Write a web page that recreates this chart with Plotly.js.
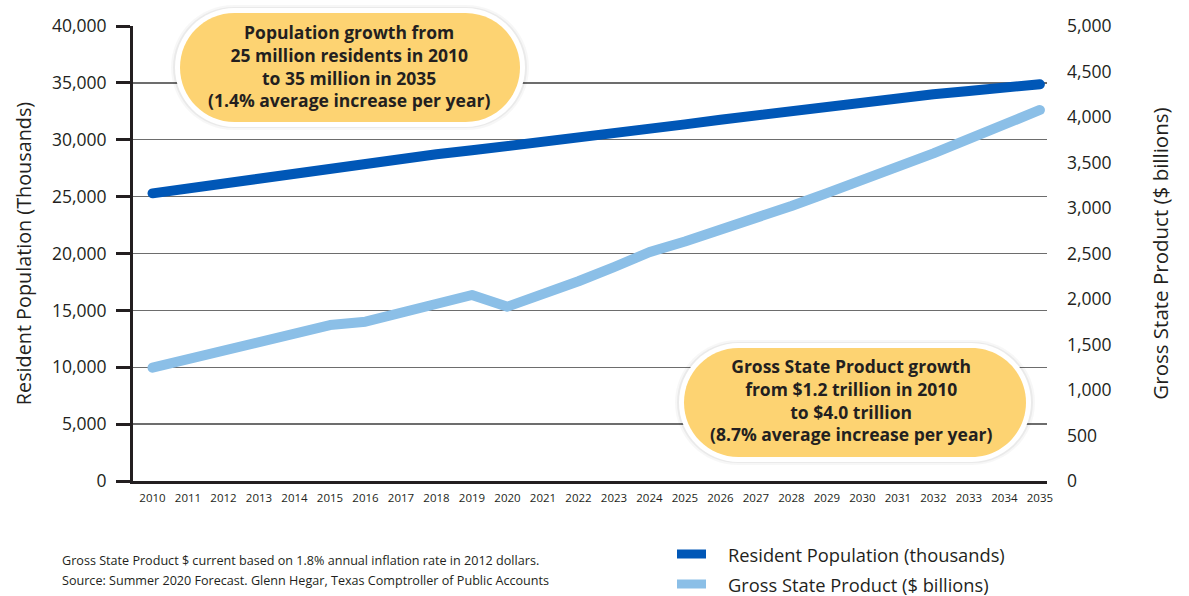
<!DOCTYPE html>
<html>
<head>
<meta charset="utf-8">
<script src="https://cdn.plot.ly/plotly-3.0.1.min.js"></script>
<style>
  html, body { margin: 0; padding: 0; background: #ffffff; }
  #chart { width: 1189px; height: 596px; }
</style>
</head>
<body>
<div id="chart"></div>
<script>
// ---- Data ----
const years = [2010, 2011, 2012, 2013, 2014, 2015, 2016, 2017, 2018, 2019, 2020, 2021, 2022,
               2023, 2024, 2025, 2026, 2027, 2028, 2029, 2030, 2031, 2032, 2033, 2034, 2035];
const population = [25290, 25730, 26170, 26610, 27080, 27550, 28020, 28370, 28720, 29070, 29420, 29770, 30130,
                    30520, 30940, 31350, 31760, 32170, 32580, 32990, 33400, 33700, 34000, 34290, 34580, 34880];
const gsp = [1245, 1337, 1431, 1525, 1620, 1714, 1751, 1843, 1945, 2044, 1916, 2050, 2195,
             2350, 2515, 2632, 2756, 2880, 3022, 3164, 3306, 3443, 3601, 3759, 3917, 4077];
const yearLabels = years.map(String);
const popTicks = [0, 5000, 10000, 15000, 20000, 25000, 30000, 35000, 40000];
const gspTicks = [0, 500, 1000, 1500, 2000, 2500, 3000, 3500, 4000, 4500, 5000];
const seriesNames = ['Resident Population (thousands)', 'Gross State Product ($ billions)'];
const yTitleLeft = 'Resident Population (Thousands)';
const yTitleRight = 'Gross State Product ($ billions)';
const note1 = 'Population growth from<br>25 million residents in 2010<br>to 35 million in 2035<br>(1.4% average increase per year)';
const note2 = 'Gross State Product growth<br>from $1.2 trillion in 2010<br>to $4.0 trillion<br>(8.7% average increase per year)';
const footnotes = ['Gross State Product $ current based on 1.8% annual inflation rate in 2012 dollars.',
                   'Source: Summer 2020 Forecast. Glenn Hegar, Texas Comptroller of Public Accounts'];

// ---- Layout geometry ----
const W = 1189, H = 596;
const M = { l: 133, r: 142, t: 26, b: 115 };
const PW = W - M.l - M.r, PH = H - M.t - M.b;
const px2x = px => (px - M.l) / PW;
const px2y = py => (H - M.b - py) / PH;

const DARK = '#0057b7', LIGHT = '#8bbfe7', INK = '#231f20', YELLOW = '#fdd372';
const FONT = '"Open Sans", "Noto Sans", sans-serif';

function pill(x0, y0, x1, y1) {
  const r = (y1 - y0) / 2, k = 0.5523 * r;
  const P = (x, y) => px2x(x).toFixed(5) + ',' + px2y(y).toFixed(5);
  return 'M' + P(x0 + r, y0) + ' L' + P(x1 - r, y0) +
    ' C' + P(x1 - r + k, y0) + ' ' + P(x1, y0 + r - k) + ' ' + P(x1, y0 + r) +
    ' C' + P(x1, y0 + r + k) + ' ' + P(x1 - r + k, y1) + ' ' + P(x1 - r, y1) +
    ' L' + P(x0 + r, y1) +
    ' C' + P(x0 + r - k, y1) + ' ' + P(x0, y0 + r + k) + ' ' + P(x0, y0 + r) +
    ' C' + P(x0, y0 + r - k) + ' ' + P(x0 + r - k, y0) + ' ' + P(x0 + r, y0) + ' Z';
}
function callout(x0, y0, x1, y1) {
  return [
    { type: 'path', xref: 'paper', yref: 'paper', layer: 'above', path: pill(x0 - 9, y0 - 8, x1 + 9, y1 + 8), fillcolor: 'rgba(0,0,0,0.03)', line: { width: 0 } },
    { type: 'path', xref: 'paper', yref: 'paper', layer: 'above', path: pill(x0 - 7, y0 - 6, x1 + 7, y1 + 6), fillcolor: 'rgba(0,0,0,0.05)', line: { width: 0 } },
    { type: 'path', xref: 'paper', yref: 'paper', layer: 'above', path: pill(x0 - 5, y0 - 5, x1 + 5, y1 + 5), fillcolor: '#ffffff', line: { width: 0 } },
    { type: 'path', xref: 'paper', yref: 'paper', layer: 'above', path: pill(x0, y0, x1, y1), fillcolor: YELLOW, line: { width: 0 } }
  ];
}
// legend drawn as swatches + labels below the plot
const legendColors = [DARK, LIGHT];
const legendRows = [554, 584];
const legendShapes = legendRows.map((cy, i) => ({
  type: 'rect', xref: 'paper', yref: 'paper', layer: 'above',
  x0: px2x(677), x1: px2x(706), y0: px2y(cy - 4.5), y1: px2y(cy + 4.5),
  fillcolor: legendColors[i], line: { width: 0 }
}));
const legendLabels = legendRows.map((cy, i) => ({
  xref: 'paper', yref: 'paper', x: px2x(726), y: px2y(cy), xanchor: 'left', yanchor: 'middle',
  text: seriesNames[i], showarrow: false, font: { family: FONT, size: 18.3, color: INK }
}));

const traces = [
  { x: years, y: population, name: seriesNames[0], type: 'scatter', mode: 'lines', yaxis: 'y',
    line: { color: DARK, width: 10 }, hoverinfo: 'skip' },
  { x: years, y: gsp, name: seriesNames[1], type: 'scatter', mode: 'lines', yaxis: 'y2',
    line: { color: LIGHT, width: 10 }, hoverinfo: 'skip' }
];

const layout = {
  width: W, height: H,
  margin: M,
  paper_bgcolor: '#ffffff', plot_bgcolor: '#ffffff',
  font: { family: FONT, color: INK },
  showlegend: false,
  xaxis: {
    range: [2009.45, 2035.2], tickvals: years, ticktext: yearLabels,
    showgrid: false, zeroline: false, showline: true, linecolor: INK, linewidth: 3,
    ticks: '', ticklabelstandoff: 4,
    tickfont: { family: FONT, size: 11.5, color: INK }, fixedrange: true
  },
  yaxis: {
    range: [0, 40000], tickvals: popTicks, tickformat: ',',
    showgrid: true, gridcolor: '#6d6d6d', gridwidth: 1.3,
    zeroline: false, showline: true, linecolor: INK, linewidth: 3,
    ticks: 'outside', ticklen: 14, tickwidth: 3, tickcolor: INK, ticklabelstandoff: 6,
    tickfont: { family: FONT, size: 17.5, color: INK },
    title: { text: yTitleLeft, font: { family: FONT, size: 19.8, color: INK }, standoff: 16 },
    fixedrange: true
  },
  yaxis2: {
    overlaying: 'y', side: 'right', range: [0, 5000], tickvals: gspTicks, tickformat: ',',
    showgrid: false, zeroline: false, showline: false, ticks: '', ticklabelstandoff: 19,
    tickfont: { family: FONT, size: 17.5, color: INK },
    title: { text: yTitleRight, font: { family: FONT, size: 20.5, color: INK }, standoff: 43 },
    fixedrange: true
  },
  shapes: [].concat(callout(180, 13, 520, 122), callout(684, 348, 1026, 457), legendShapes),
  annotations: [
    { xref: 'paper', yref: 'paper', x: px2x(349), y: px2y(66), xanchor: 'center', yanchor: 'middle',
      text: note1, showarrow: false, align: 'center',
      font: { family: FONT, size: 17.5, color: INK, weight: 700 } },
    { xref: 'paper', yref: 'paper', x: px2x(851), y: px2y(400), xanchor: 'center', yanchor: 'middle',
      text: note2, showarrow: false, align: 'center',
      font: { family: FONT, size: 17.5, color: INK, weight: 700 } },
    { xref: 'paper', yref: 'paper', x: px2x(60), y: px2y(560), xanchor: 'left', yanchor: 'middle',
      text: footnotes[0], showarrow: false, font: { family: FONT, size: 12.6, color: INK } },
    { xref: 'paper', yref: 'paper', x: px2x(60), y: px2y(580), xanchor: 'left', yanchor: 'middle',
      text: footnotes[1], showarrow: false, font: { family: FONT, size: 12.6, color: INK } }
  ].concat(legendLabels)
};

Plotly.newPlot('chart', traces, layout, { displayModeBar: false, staticPlot: true }).then(gd => {
  gd.querySelectorAll('.scatterlayer .js-line').forEach(p => {
    p.style.strokeLinecap = 'round';
    p.style.strokeLinejoin = 'round';
  });
});
</script>
</body>
</html>
